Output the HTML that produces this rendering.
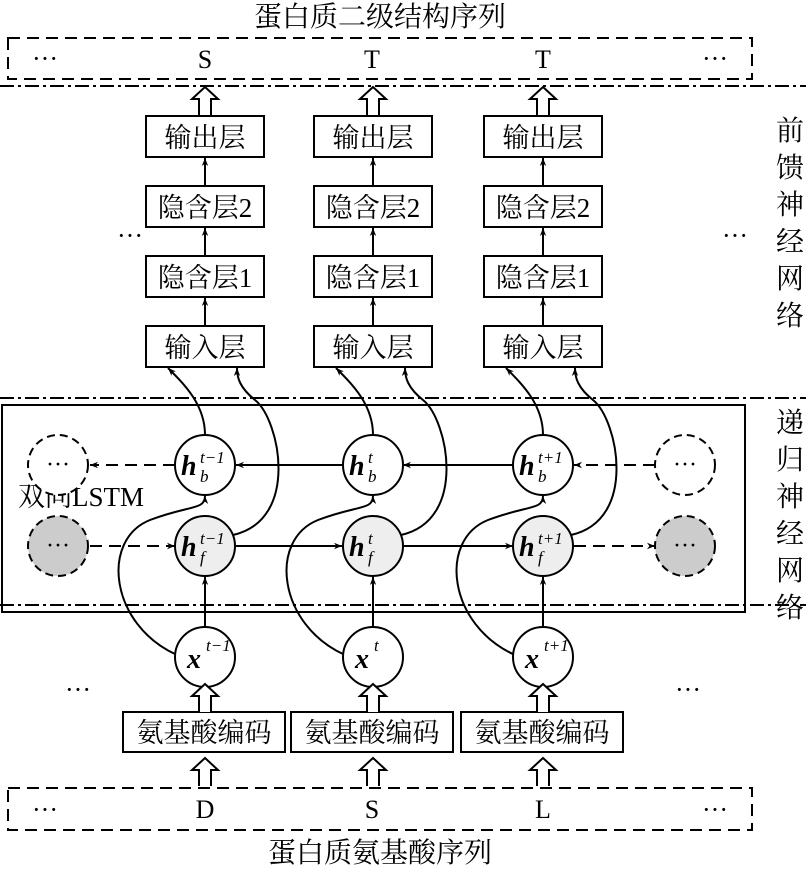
<!DOCTYPE html>
<html><head><meta charset="utf-8"><style>
body{margin:0;background:#fff}
text{font-family:"Liberation Serif","Noto Serif CJK SC",serif;fill:#000}
</style></head><body>
<svg width="806" height="869" viewBox="0 0 806 869" xmlns="http://www.w3.org/2000/svg">
<defs>
<marker id="a" viewBox="0 0 10 10" refX="10" refY="5" markerWidth="8" markerHeight="8" orient="auto" markerUnits="userSpaceOnUse"><path d="M0,1 L10,5 L0,9 L3,5z" fill="#000"/></marker>
<g id="hol"><path d="M-6,28 V12 H-13 L0,0 L13,12 H6 V28" fill="#fff" stroke="#000" stroke-width="2"/></g>
</defs>
<g stroke="#000" stroke-width="2" fill="none">
<text x="380" y="26" font-size="28" text-anchor="middle" stroke="none">蛋白质二级结构序列</text>
<rect x="8" y="38" width="744" height="41" stroke-dasharray="12,7"/>
<line x1="0" y1="86" x2="806" y2="86" stroke-dasharray="14,4,3,4"/>
<line x1="0" y1="398" x2="806" y2="398" stroke-dasharray="14,4,3,4"/>
<line x1="0" y1="605" x2="806" y2="605" stroke-dasharray="14,4,3,4"/>
<rect x="2" y="405" width="743" height="207"/>
<rect x="8" y="788" width="744" height="42" stroke-dasharray="12,7"/>
</g>
<g font-size="26" text-anchor="middle">
<text x="45" y="67">···</text><text x="715" y="67">···</text>
<text x="205" y="68">S</text><text x="372" y="68">T</text><text x="543" y="68">T</text>
<text x="45" y="818">···</text><text x="715" y="818">···</text>
<text x="205" y="818">D</text><text x="372" y="818">S</text><text x="543" y="818">L</text>
<text x="130" y="244">···</text><text x="735" y="244">···</text>
<text x="78" y="698">···</text><text x="688" y="698">···</text>
<text x="380" y="862" font-size="28">蛋白质氨基酸序列</text>
</g>
<text x="18" y="506" font-size="27">双向LSTM</text>
<g font-size="28" text-anchor="middle">
<text x="790" y="140">前</text><text x="790" y="177">馈</text><text x="790" y="214">神</text><text x="790" y="251">经</text><text x="790" y="288">网</text><text x="790" y="325">络</text>
<text x="790" y="432">递</text><text x="790" y="469">归</text><text x="790" y="506">神</text><text x="790" y="543">经</text><text x="790" y="580">网</text><text x="790" y="617">络</text>
</g>
<g stroke="#000" stroke-width="2" stroke-dasharray="8,5">
<circle cx="58" cy="465" r="30" fill="#fff"/><circle cx="58" cy="546" r="30" fill="#ccc"/>
<circle cx="685" cy="465" r="30" fill="#fff"/><circle cx="685" cy="546" r="30" fill="#ccc"/>
</g>
<g font-size="24" text-anchor="middle"><text x="58" y="472">···</text><text x="58" y="553">···</text><text x="685" y="472">···</text><text x="685" y="553">···</text></g>
<g stroke="#000" stroke-width="2" fill="none" marker-end="url(#a)">
<line x1="175" y1="465" x2="90" y2="465" stroke-dasharray="12,7"/>
<line x1="342" y1="465" x2="236" y2="465"/>
<line x1="513" y1="465" x2="403" y2="465"/>
<line x1="655" y1="465" x2="574" y2="465" stroke-dasharray="12,7"/>
<line x1="90" y1="546" x2="175" y2="546" stroke-dasharray="12,7"/>
<line x1="236" y1="546" x2="342" y2="546"/>
<line x1="403" y1="546" x2="513" y2="546"/>
<line x1="574" y1="546" x2="655" y2="546" stroke-dasharray="12,7"/>
</g>
<g id="c1">
<g stroke="#000" stroke-width="2" fill="none">
<line x1="205" y1="627" x2="205" y2="577" marker-end="url(#a)"/>
<path d="M177,655 C110,625 100,540 150,520 C190,505 205,510 205,496" marker-end="url(#a)"/>
<path d="M233,535 C300,520 280,420 255,400 C240,388 237,378 237,368" marker-end="url(#a)"/>
<path d="M205,435 C205,405 185,385 168,368" marker-end="url(#a)"/>
<line x1="205" y1="325" x2="205" y2="298" marker-end="url(#a)"/>
<line x1="205" y1="255" x2="205" y2="228" marker-end="url(#a)"/>
<line x1="205" y1="185" x2="205" y2="158" marker-end="url(#a)"/>
<circle cx="205" cy="465" r="30" fill="#fff"/>
<circle cx="205" cy="546" r="30" fill="#eee"/>
<circle cx="205" cy="657" r="30" fill="#fff"/>
<rect x="146" y="116" width="118" height="41" fill="#fff"/>
<rect x="146" y="186" width="118" height="41" fill="#fff"/>
<rect x="146" y="256" width="118" height="41" fill="#fff"/>
<rect x="146" y="326" width="118" height="41" fill="#fff"/>
<rect x="123" y="712" width="162" height="40" fill="#fff"/>
</g>
<use href="#hol" x="205" y="87"/>
<use href="#hol" x="205" y="684"/>
<use href="#hol" x="205" y="758"/>
<g font-size="27" text-anchor="middle">
<text x="205" y="147">输出层</text><text x="205" y="217">隐含层2</text><text x="205" y="287">隐含层1</text><text x="205" y="357">输入层</text>
<text x="204" y="742">氨基酸编码</text>
</g>
<g font-size="28" font-weight="bold" font-style="italic"><text x="181" y="475">h</text><text x="181" y="556">h</text><text x="187" y="668">x</text></g>
</g>
<use href="#c1" x="168"/>
<use href="#c1" x="338"/>
<g font-size="17" font-style="italic">
<text x="200" y="463">t−1</text><text x="200" y="482">b</text><text x="200" y="544">t−1</text><text x="200" y="563">f</text><text x="206" y="651">t−1</text>
<text x="368" y="463">t</text><text x="368" y="482">b</text><text x="368" y="544">t</text><text x="368" y="563">f</text><text x="374" y="651">t</text>
<text x="538" y="463">t+1</text><text x="538" y="482">b</text><text x="538" y="544">t+1</text><text x="538" y="563">f</text><text x="544" y="651">t+1</text>
</g>
</svg>
</body></html>
